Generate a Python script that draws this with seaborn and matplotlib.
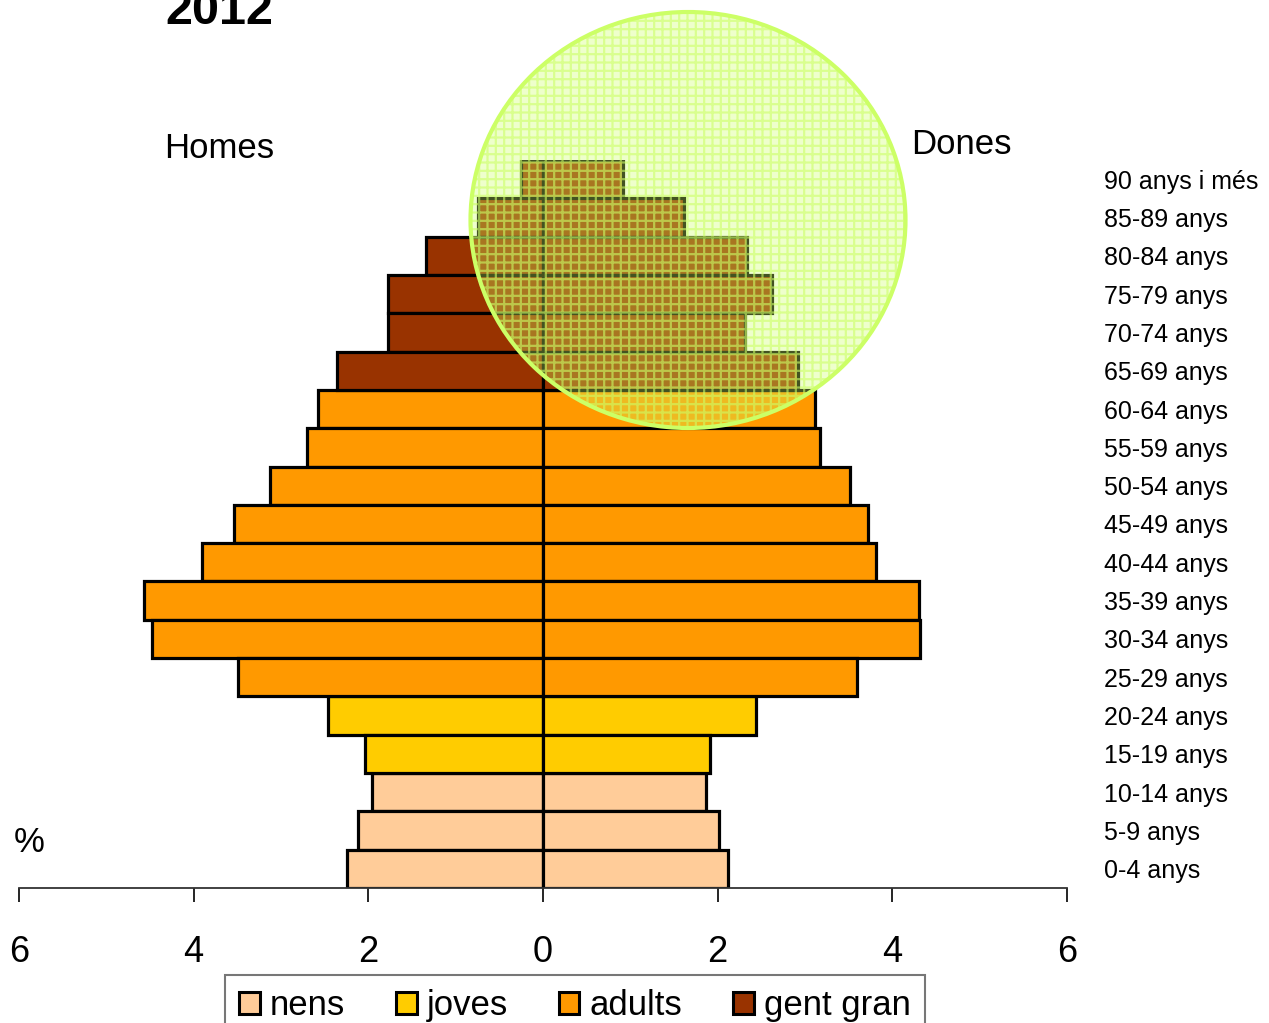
import matplotlib
matplotlib.use("Agg")
import matplotlib.pyplot as plt
from matplotlib.patches import Ellipse, Patch
import seaborn as sns
import pandas as pd

ages = ["90 anys i més", "85-89 anys", "80-84 anys", "75-79 anys", "70-74 anys",
        "65-69 anys", "60-64 anys", "55-59 anys", "50-54 anys", "45-49 anys",
        "40-44 anys", "35-39 anys", "30-34 anys", "25-29 anys", "20-24 anys",
        "15-19 anys", "10-14 anys", "5-9 anys", "0-4 anys"]
homes = [0.25, 0.74, 1.34, 1.78, 1.78, 2.36, 2.58, 2.70, 3.13, 3.54,
         3.91, 4.57, 4.48, 3.49, 2.46, 2.04, 1.96, 2.12, 2.25]
dones = [0.92, 1.62, 2.34, 2.62, 2.31, 2.92, 3.12, 3.17, 3.51, 3.72,
         3.81, 4.30, 4.32, 3.60, 2.44, 1.91, 1.87, 2.02, 2.12]
grups = ["gent gran"] * 6 + ["adults"] * 8 + ["joves"] * 2 + ["nens"] * 3
legend_labels = ["nens", "joves", "adults", "gent gran"]
colors = {"nens": "#FFCC99", "joves": "#FFCC00", "adults": "#FF9900", "gent gran": "#993300"}
xticks = [-6, -4, -2, 0, 2, 4, 6]

sns.set_theme(style="white")
plt.rcParams['font.family'] = ['Liberation Sans', 'DejaVu Sans']
plt.rcParams['text.color'] = 'black'
plt.rcParams['xtick.color'] = 'black'
plt.rcParams['ytick.color'] = 'black'
plt.rcParams['hatch.linewidth'] = 1.6

df_h = pd.DataFrame({"edat": ages, "valor": [-v for v in homes], "grup": grups})
df_d = pd.DataFrame({"edat": ages, "valor": dones, "grup": grups})

fig = plt.figure(figsize=(12.69, 10.23), dpi=100)
ax = fig.add_axes([19 / 1269, 135 / 1023, 1048 / 1269, 728 / 1023])

for df in (df_h, df_d):
    sns.barplot(data=df, x="valor", y="edat", hue="grup", order=ages,
                hue_order=legend_labels, palette=colors, dodge=False, width=1.0,
                saturation=1, edgecolor="black", linewidth=2.3, legend=False,
                ax=ax, orient="h")

ax.set_xlim(-6, 6)
ax.set_ylim(18.5, -0.5)
ax.set_xticks(xticks)
ax.set_xticklabels([str(abs(t)) for t in xticks], fontsize=26)
ax.tick_params(axis="x", direction="out", length=10, width=1.2, pad=24, colors="black", bottom=True)
ax.yaxis.tick_right()
ax.tick_params(axis="y", length=0, pad=27, labelsize=18)
for lab in ax.get_yticklabels():
    lab.set_horizontalalignment("left")
ax.set_xlabel("")
ax.set_ylabel("")
for s in ["top", "left", "right"]:
    ax.spines[s].set_visible(False)
ax.spines["bottom"].set_color("#333333")
ax.spines["bottom"].set_linewidth(1.3)
ax.grid(False)

fig.text(165 / 1269, 1 - 12 / 1023, "2012", fontsize=35, fontweight="bold", va="center", ha="left")
fig.text(164 / 1269, 1 - 148 / 1023, "Homes", fontsize=25, va="center", ha="left")
fig.text(911 / 1269, 1 - 144 / 1023, "Dones", fontsize=25, va="center", ha="left")
fig.text(14 / 1269, 1 - 842 / 1023, "%", fontsize=25, va="center", ha="left")

handles = [Patch(facecolor=colors[k], edgecolor="black", linewidth=2.2) for k in legend_labels]
leg = fig.legend(handles, legend_labels, loc="upper center", bbox_to_anchor=(575 / 1269, 1 - 975 / 1023),
                 ncol=4, frameon=True, fancybox=False, edgecolor="#555555", fontsize=25,
                 handlelength=0.6, handleheight=0.6, handletextpad=0.3, columnspacing=1.45,
                 borderpad=0.4, borderaxespad=0, labelcolor="black")
leg.get_frame().set_linewidth(1.5)

center = (688 / 1269, 1 - 220 / 1023)
w, h = 435 / 1269, 416 / 1023
fig.patches.append(Ellipse(center, w, h, transform=fig.transFigure,
                           facecolor="#CCFF66", alpha=0.33, edgecolor="none", zorder=10))
fig.patches.append(Ellipse(center, w, h, transform=fig.transFigure, facecolor="none",
                           edgecolor="#CCFF66", linewidth=0, hatch="++", alpha=0.6, zorder=11))
fig.patches.append(Ellipse(center, w, h, transform=fig.transFigure, facecolor="none",
                           edgecolor="#CCFF66", linewidth=3, zorder=12))

fig.savefig("out.png", dpi=100)
